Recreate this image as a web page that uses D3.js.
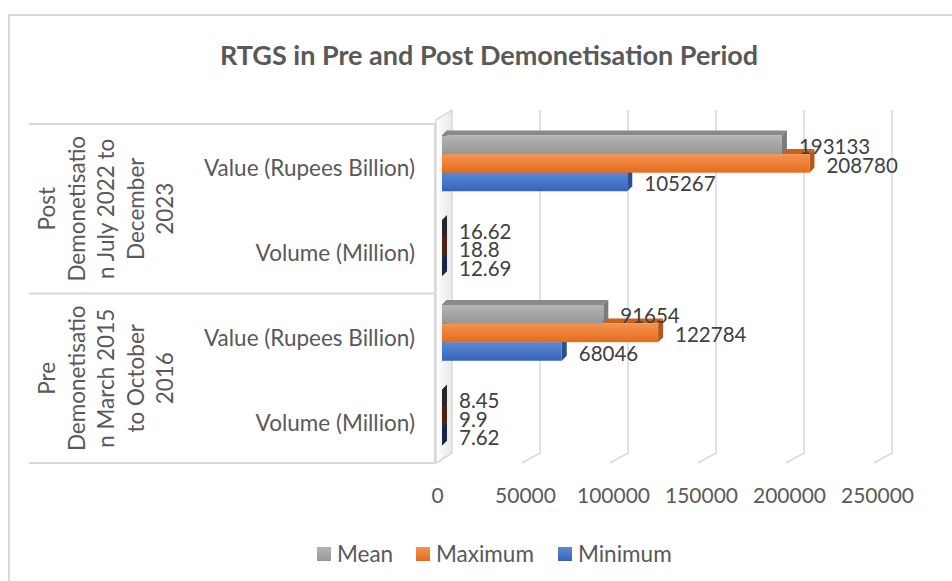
<!DOCTYPE html>
<html>
<head>
<meta charset="utf-8">
<script src="https://cdn.jsdelivr.net/npm/d3@7"></script>
<style>
  body { margin: 0; background: #fff; }
  svg { font-family: Lato, "Open Sans", sans-serif; }
</style>
</head>
<body>
<div id="chart"></div>
<script>
// Data
const groups = ["Post", "Pre"];
const groupLines = [
    ["Post", "Demonetisatio", "n July 2022 to", "December", "2023"],
    ["Pre", "Demonetisatio", "n March 2015", "to October", "2016"]
];
const measures = ["Value (Rupees Billion)", "Volume (Million)"];
const series = ["Mean", "Maximum", "Minimum"];
// rows: Post/Value, Post/Volume, Pre/Value, Pre/Volume
const meanVals = [193133, 16.62, 91654, 8.45];
const maxVals = [208780, 18.8, 122784, 9.9];
const minVals = [105267, 12.69, 68046, 7.62];
const xTicks = [0, 50000, 100000, 150000, 200000, 250000];

const W = 952, H = 581;
const colors = {
    Mean: { top: "#b4b4b4", bot: "#979797", side: "#7a7a7a", cap: "#8a8a8a", end: "#262626" },
    Maximum: { top: "#f5934f", bot: "#e46c1d", side: "#b8561a", cap: "#c8611e", end: "#4a2410" },
    Minimum: { top: "#5b8ad8", bot: "#3563b9", side: "#2b4f93", cap: "#3a66b5", end: "#162849" }
};
const seriesVals = { Mean: meanVals, Maximum: maxVals, Minimum: minVals };

const svg = d3.select("#chart")
    .append("svg")
    .attr("width", W)
    .attr("height", H);

const defs = svg.append("defs");
series.forEach(s => {
    const g = defs.append("linearGradient")
        .attr("id", "grad-" + s)
        .attr("x1", 0).attr("y1", 0).attr("x2", 0).attr("y2", 1);
    g.append("stop").attr("offset", "0%").attr("stop-color", colors[s].top);
    g.append("stop").attr("offset", "100%").attr("stop-color", colors[s].bot);
});
const wallGrad = defs.append("linearGradient")
    .attr("id", "wall").attr("x1", 0).attr("y1", 0).attr("x2", 1).attr("y2", 0);
wallGrad.append("stop").attr("offset", "0%").attr("stop-color", "#ffffff");
wallGrad.append("stop").attr("offset", "100%").attr("stop-color", "#e8e8e8");

// chart border
svg.append("rect")
    .attr("x", 9).attr("y", 15)
    .attr("width", 980).attr("height", 620)
    .attr("fill", "#fff")
    .attr("stroke", "#d9d9d9")
    .attr("stroke-width", 2);

// title
svg.append("text")
    .attr("x", 489).attr("y", 65)
    .attr("text-anchor", "middle")
    .style("font-size", "27px")
    .style("font-weight", "bold")
    .style("fill", "#595959")
    .text("RTGS in Pre and Post Demonetisation Period");

// Scales
const x = d3.scaleLinear().domain([0, 250000]).range([442, 882]);
const yGroup = d3.scaleBand().domain(groups).range([124, 463]);
const ySub = d3.scaleBand().domain(measures).range([0, yGroup.bandwidth()]);
const ySer = d3.scaleBand().domain(series).range([0, ySub.bandwidth()]).paddingOuter(0.78);

const backDx = 10, wallTop = 110, floorBack = 453, floorFront = 463, frontDx = -8;
const dx = 5, dy = 5; // bar depth

// side wall
svg.append("path")
    .attr("d", `M436,${floorFront}L452,${floorBack}L452,${wallTop}L436,${wallTop + 10}Z`)
    .attr("fill", "url(#wall)")
    .attr("stroke", "#d9d9d9")
    .attr("stroke-width", 1.5);

// gridlines on back wall + floor
svg.selectAll(".grid")
    .data(xTicks.slice(1))
    .enter()
    .append("path")
    .attr("class", "grid")
    .attr("d", d => `M${x(d) + backDx},${wallTop}L${x(d) + backDx},${floorBack}L${x(d) + frontDx},${floorFront}`)
    .attr("fill", "none")
    .attr("stroke", "#d9d9d9")
    .attr("stroke-width", 1.5);

// category table
const tbl = svg.append("g").attr("stroke", "#d9d9d9").attr("stroke-width", 2);
[124, 293.5, 463].forEach(yy => {
    tbl.append("line").attr("x1", 29).attr("x2", 436).attr("y1", yy).attr("y2", yy);
});
tbl.append("line").attr("x1", 435).attr("x2", 435).attr("y1", 124).attr("y2", 463);

// group labels (rotated, wrapped)
groups.forEach((g, gi) => {
    const cy = yGroup(g) + yGroup.bandwidth() / 2;
    groupLines[gi].forEach((line, li) => {
        svg.append("text")
            .attr("transform", `translate(${55 + li * 29.5},${cy}) rotate(-90)`)
            .attr("text-anchor", "middle")
            .style("font-size", "22.5px")
            .style("fill", "#595959")
            .text(line);
    });
    measures.forEach(m => {
        svg.append("text")
            .attr("x", 415)
            .attr("y", yGroup(g) + ySub(m) + ySub.bandwidth() / 2 + 2)
            .attr("dy", "0.35em")
            .attr("text-anchor", "end")
            .style("font-size", "22.5px")
            .style("fill", "#595959")
            .text(m);
    });
});

// bars
const rows = [];
groups.forEach(g => measures.forEach(m => rows.push({ g, m })));

const barG = svg.append("g");
rows.forEach((r, ri) => {
    // draw bottom bar first so upper bars overlap
    series.slice().reverse().forEach(s => {
        const v = seriesVals[s][ri];
        const x0 = x(0), x1 = x(v);
        const y = yGroup(r.g) + ySub(r.m) + ySer(s) - 3;
        const bh = ySer.bandwidth();
        const c = colors[s];
        barG.append("path")
            .attr("d", `M${x0},${y}L${x0 + dx},${y - dy}L${x0 + dx},${y + bh - dy}L${x0},${y + bh}Z`)
            .attr("fill", c.end);
        barG.append("path")
            .attr("d", `M${x0},${y}L${x1},${y}L${x1 + dx},${y - dy}L${x0 + dx},${y - dy}Z`)
            .attr("fill", c.cap);
        barG.append("path")
            .attr("d", `M${x1},${y}L${x1 + dx},${y - dy}L${x1 + dx},${y + bh - dy}L${x1},${y + bh}Z`)
            .attr("fill", v > 1000 ? c.side : c.end);
        barG.append("rect")
            .attr("x", x0).attr("y", y)
            .attr("width", x1 - x0).attr("height", bh)
            .attr("fill", "url(#grad-" + s + ")");
        barG.append("text")
            .attr("x", x1 + 17)
            .attr("y", y + bh / 2 + 2)
            .attr("dy", "0.35em")
            .style("font-size", "20.5px")
            .style("fill", "#404040")
            .text(v);
    });
});

// x axis labels
svg.append("g")
    .attr("transform", `translate(-5, 496)`)
    .call(d3.axisBottom(x).tickValues(xTicks).tickSize(0).tickFormat(d3.format("d")))
    .call(g => g.select(".domain").remove())
    .selectAll("text")
    .attr("y", 0)
    .attr("dy", "0.35em")
    .style("font-family", "Lato, 'Open Sans', sans-serif")
    .style("font-size", "21px")
    .style("fill", "#595959");

// legend
const legendX = [317, 416, 558];
const legend = svg.selectAll(".legend")
    .data(series)
    .enter()
    .append("g")
    .attr("class", "legend")
    .attr("transform", (d, i) => `translate(${legendX[i]}, 547)`);
legend.append("rect")
    .attr("width", 14).attr("height", 14)
    .attr("fill", d => "url(#grad-" + d + ")");
legend.append("text")
    .attr("x", 20).attr("y", 7)
    .attr("dy", "0.35em")
    .style("font-size", "22.5px")
    .style("fill", "#595959")
    .text(d => d);
</script>
</body>
</html>
